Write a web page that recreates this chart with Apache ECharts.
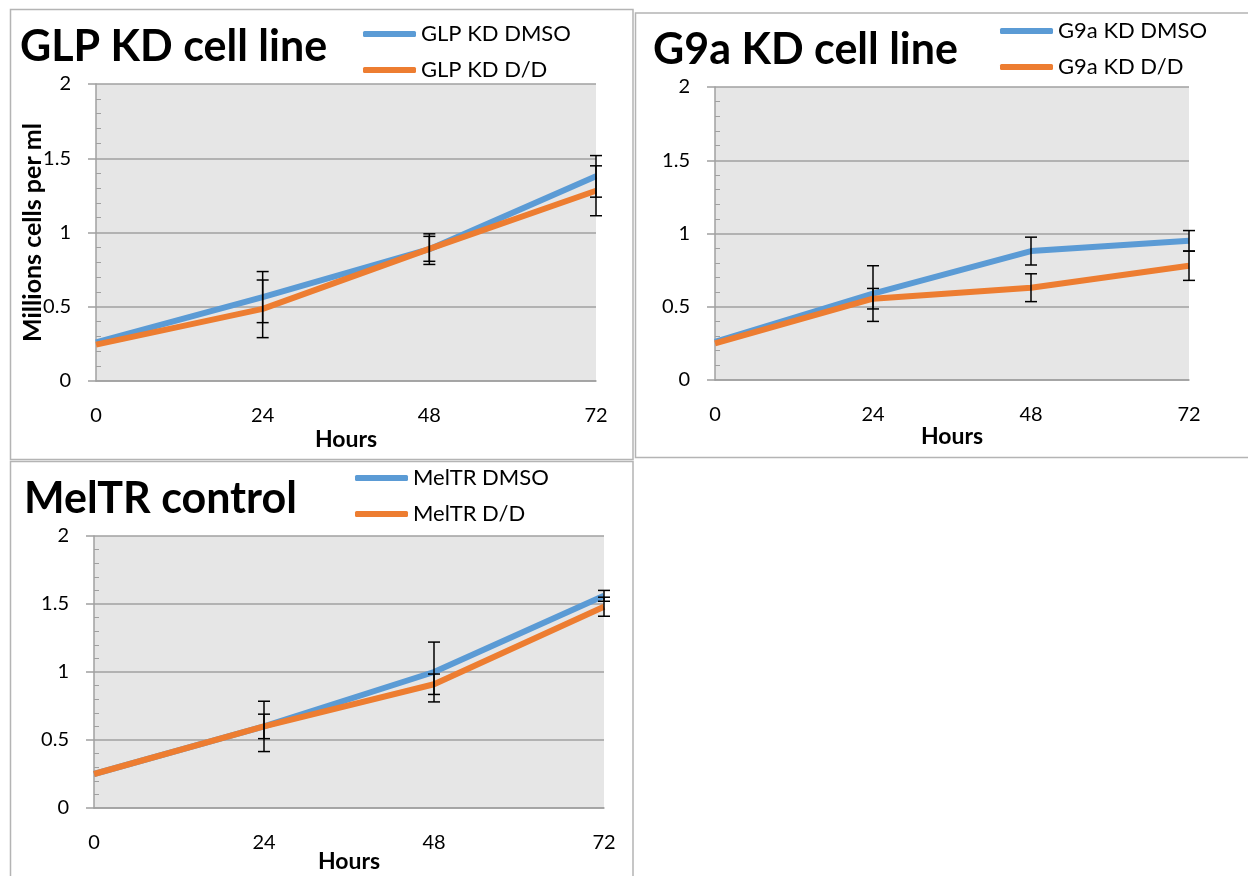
<!DOCTYPE html>
<html>
<head>
    <meta charset="utf-8" />
    <title>Cell growth</title>
    <script src="https://cdn.jsdelivr.net/npm/echarts@6/dist/echarts.min.js"></script>
    <style type="text/css">
        html, body { margin: 0; padding: 0; background: #fff; }
        #main { width: 1248px; height: 876px; }
    </style>
</head>
<body>
    <div id="main"></div>
    <script>
        // x categories and y ticks
        var hours = ['0', '24', '48', '72'];
        var yMin = 0, yMax = 2, yStep = 0.5;

        // GLP KD cell line
        var glpDmso = [0.26, 0.565, 0.888, 1.378];
        var glpDD = [0.245, 0.486, 0.89, 1.281];
        var glpDmsoErr = [0, 0.172, 0.103, 0.14];
        var glpDDErr = [0, 0.194, 0.084, 0.168];

        // G9a KD cell line
        var g9aDmso = [0.26, 0.59, 0.88, 0.95];
        var g9aDD = [0.25, 0.555, 0.63, 0.78];
        var g9aDmsoErr = [0, 0.19, 0.095, 0.07];
        var g9aDDErr = [0, 0.07, 0.095, 0.10];

        // MelTR control
        var melDmso = [0.25, 0.60, 1.00, 1.56];
        var melDD = [0.25, 0.60, 0.91, 1.48];
        var melDmsoErr = [0, 0.185, 0.22, 0.04];
        var melDDErr = [0, 0.09, 0.075, 0.07];

        var BLUE = '#5b9bd5', ORANGE = '#ed7d31', GRIDC = '#a0a0a0';
        var FONT = 'Lato';

        var chart = echarts.init(document.getElementById('main'));

        function errData(vals, errs) {
            return vals.map(function (v, i) { return [i, v, errs[i]]; });
        }

        // error bars: vertical line with caps, placed via the axes
        function errSeries(idx, vals, errs) {
            return {
                type: 'custom',
                xAxisIndex: idx,
                yAxisIndex: idx * 2,
                z: 5,
                clip: false,
                silent: true,
                data: errData(vals, errs),
                renderItem: function (params, api) {
                    var x = api.value(0), v = api.value(1), e = api.value(2);
                    if (!e) return;
                    var hi = api.coord([x, v + e]);
                    var lo = api.coord([x, v - e]);
                    var w = 6;
                    var style = { stroke: '#000', lineWidth: 1.5 };
                    return {
                        type: 'group',
                        children: [
                            { type: 'line', shape: { x1: hi[0], y1: hi[1], x2: lo[0], y2: lo[1] }, style: style },
                            { type: 'line', shape: { x1: hi[0] - w, y1: hi[1], x2: hi[0] + w, y2: hi[1] }, style: style },
                            { type: 'line', shape: { x1: lo[0] - w, y1: lo[1], x2: lo[0] + w, y2: lo[1] }, style: style }
                        ]
                    };
                }
            };
        }

        function lineSeries(idx, name, vals, color) {
            return {
                type: 'line',
                name: name,
                xAxisIndex: idx,
                yAxisIndex: idx * 2,
                data: vals,
                symbol: 'none',
                z: 3,
                lineStyle: { color: color, width: 6 },
                itemStyle: { color: color }
            };
        }

        function xAxis(idx, gap) {
            return {
                type: 'category',
                gridIndex: idx,
                data: hours,
                boundaryGap: false,
                name: 'Hours',
                nameLocation: 'middle',
                nameGap: gap,
                nameMoveOverlap: false,
                nameTextStyle: { fontFamily: FONT, fontWeight: 'bold', fontSize: 23, color: '#000' },
                axisLine: { lineStyle: { color: GRIDC, width: 1.5 } },
                axisTick: { show: false },
                axisLabel: { fontFamily: FONT, fontSize: 20, color: '#000', margin: 25 },
                splitLine: { show: false }
            };
        }

        function yAxes(idx, name) {
            var main = {
                type: 'value',
                gridIndex: idx,
                min: yMin, max: yMax, interval: yStep,
                position: 'left',
                axisLine: { show: true, lineStyle: { color: GRIDC, width: 1.5 } },
                axisTick: { show: true, length: 8, lineStyle: { color: GRIDC, width: 1.5 } },
                axisLabel: { fontFamily: FONT, fontSize: 20, color: '#000', margin: 25 },
                splitLine: { show: true, lineStyle: { color: GRIDC, width: 1.5 } }
            };
            if (name) {
                main.name = name;
                main.nameLocation = 'middle';
                main.nameGap = 51;
                main.nameMoveOverlap = false;
                main.nameTextStyle = { fontFamily: FONT, fontWeight: 'bold', fontSize: 25, color: '#000' };
            }
            // second axis only for the small inward ticks
            var minor = {
                type: 'value',
                gridIndex: idx,
                min: yMin, max: yMax, interval: yStep,
                position: 'left',
                axisLine: { show: false },
                axisTick: { show: false, inside: true },
                minorTick: { show: true, splitNumber: 5, length: 5, lineStyle: { color: GRIDC, width: 1 } },
                axisLabel: { show: false },
                splitLine: { show: false }
            };
            return [main, minor];
        }

        function titleOf(text, left, top) {
            return {
                text: text, left: left, top: top,
                textStyle: { fontFamily: FONT, fontWeight: 'bold', fontSize: 43, lineHeight: 43, color: '#000' }
            };
        }

        function legendOf(names, left, top) {
            return {
                orient: 'vertical',
                left: left, top: top,
                data: names,
                icon: 'roundRect',
                itemWidth: 53, itemHeight: 6,
                itemGap: 14,
                itemStyle: { borderWidth: 0 },
                textStyle: { fontFamily: FONT, fontSize: 22, lineHeight: 22, color: '#000' },
                selectedMode: false
            };
        }

        var option = {
            animation: false,
            backgroundColor: '#fff',
            title: [
                titleOf('GLP KD cell line', 15, 21),
                titleOf('G9a KD cell line', 648, 24),
                titleOf('MelTR control', 19, 473)
            ],
            legend: [
                legendOf(['GLP KD DMSO', 'GLP KD D/D'], 358, 18),
                legendOf(['G9a KD DMSO', 'G9a KD D/D'], 995, 15),
                legendOf(['MelTR DMSO', 'MelTR D/D'], 350, 462)
            ],
            grid: [
                { left: 96, top: 84, width: 500, height: 297, show: true, backgroundColor: '#e6e6e6', borderWidth: 0 },
                { left: 715, top: 87, width: 474, height: 293, show: true, backgroundColor: '#e6e6e6', borderWidth: 0 },
                { left: 94, top: 536, width: 510, height: 272, show: true, backgroundColor: '#e6e6e6', borderWidth: 0 }
            ],
            xAxis: [xAxis(0, 47), xAxis(1, 45), xAxis(2, 42)],
            yAxis: [].concat(yAxes(0, 'Millions cells per ml'), yAxes(1), yAxes(2)),
            graphic: [
                { type: 'rect', silent: true, z: -1, shape: { x: 10.5, y: 9.5, width: 622.5, height: 450 },
                  style: { fill: 'none', stroke: '#b4b4b4', lineWidth: 1.5 } },
                { type: 'rect', silent: true, z: -1, shape: { x: 635.5, y: 13, width: 620, height: 444.5 },
                  style: { fill: 'none', stroke: '#b4b4b4', lineWidth: 1.5 } },
                { type: 'rect', silent: true, z: -1, shape: { x: 10.5, y: 461.5, width: 622.5, height: 430 },
                  style: { fill: 'none', stroke: '#b4b4b4', lineWidth: 1.5 } }
            ],
            series: [
                lineSeries(0, 'GLP KD DMSO', glpDmso, BLUE),
                lineSeries(0, 'GLP KD D/D', glpDD, ORANGE),
                errSeries(0, glpDmso, glpDmsoErr),
                errSeries(0, glpDD, glpDDErr),
                lineSeries(1, 'G9a KD DMSO', g9aDmso, BLUE),
                lineSeries(1, 'G9a KD D/D', g9aDD, ORANGE),
                errSeries(1, g9aDmso, g9aDmsoErr),
                errSeries(1, g9aDD, g9aDDErr),
                lineSeries(2, 'MelTR DMSO', melDmso, BLUE),
                lineSeries(2, 'MelTR D/D', melDD, ORANGE),
                errSeries(2, melDmso, melDmsoErr),
                errSeries(2, melDD, melDDErr)
            ]
        };

        chart.setOption(option);
    </script>
</body>
</html>
